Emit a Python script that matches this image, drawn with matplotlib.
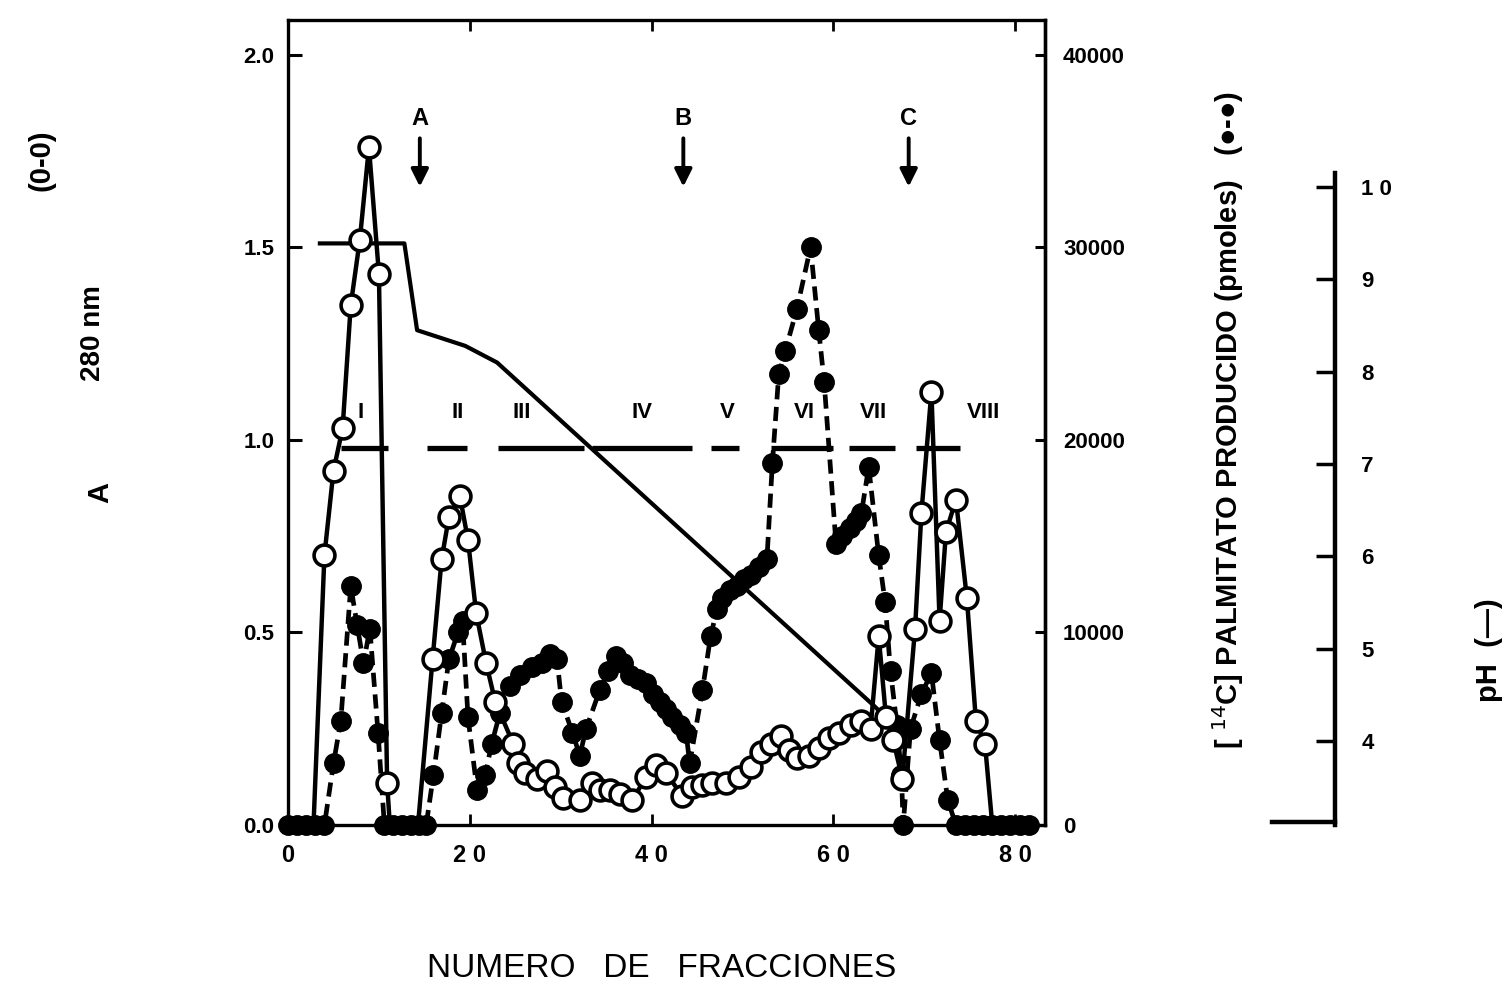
import numpy as np
import matplotlib.pyplot as plt

plt.rcParams['font.family'] = ['Liberation Sans', 'DejaVu Sans']

# A 280 nm (open circles)
frac_a = [2.8, 4.0, 5.0, 6.0, 6.9, 7.9, 8.9, 10.0, 10.9, 11.2, 14.3, 15.9, 16.9, 17.7, 18.9,
          19.8, 20.7, 21.8, 22.8, 24.8, 25.3, 26.1, 27.4, 28.5, 29.4, 30.3, 32.1, 33.4, 34.3,
          35.4, 36.5, 37.9, 39.4, 40.5, 41.6, 43.4, 44.5, 45.5, 46.7, 48.2, 49.6, 50.9, 52.0,
          53.1, 54.3, 55.1, 56.0, 57.3, 58.4, 59.5, 60.6, 61.9, 63.0, 64.1, 65.0, 65.8, 66.6,
          67.6, 69.0, 69.7, 70.8, 71.7, 72.4, 73.5, 74.7, 75.7, 76.7, 77.5]
a280 = [0, 0.70, 0.92, 1.03, 1.35, 1.52, 1.76, 1.43, 0.11, 0, 0, 0.43, 0.69, 0.80, 0.855,
        0.74, 0.55, 0.42, 0.32, 0.21, 0.16, 0.135, 0.12, 0.14, 0.10, 0.07, 0.065, 0.11, 0.09,
        0.09, 0.08, 0.065, 0.125, 0.155, 0.135, 0.075, 0.10, 0.105, 0.11, 0.11, 0.125, 0.15, 0.19,
        0.21, 0.23, 0.195, 0.175, 0.18, 0.20, 0.225, 0.24, 0.26, 0.27, 0.25, 0.49, 0.28, 0.22,
        0.12, 0.51, 0.81, 1.125, 0.53, 0.76, 0.845, 0.59, 0.27, 0.21, 0]

# [14C] palmitato producido, pmoles (filled circles)
frac_p = [0, 1, 2, 3, 4, 5.0, 5.8, 6.9, 7.6, 8.3, 9.0, 9.9, 10.6, 11.5, 12.5, 13.5, 14.4, 15.2,
          16.0, 16.9, 17.7, 18.7, 19.2, 19.8, 20.8, 21.7, 22.4, 23.3, 24.4, 25.5, 26.8, 28.0,
          28.8, 29.6, 30.1, 31.3, 32.1, 32.8, 34.3, 35.2, 36.1, 36.9, 37.6, 38.5, 39.4, 40.2,
          40.9, 41.6, 42.3, 43.1, 43.8, 44.2, 45.6, 46.5, 47.2, 47.8, 48.6, 49.4, 50.2, 51.0,
          51.8, 52.7, 53.3, 54.0, 54.7, 56.0, 57.5, 58.4, 59.0, 60.3, 61.0, 61.8, 62.5, 63.1,
          63.9, 65.0, 65.7, 66.3, 67.0, 67.5, 67.7, 68.5, 69.7, 70.8, 71.7, 72.6, 73.5, 74.5,
          75.5, 76.5, 77.5, 78.5, 79.5, 80.5, 81.5]
pmol = [0, 0, 0, 0, 0, 3200, 5400, 12400, 10400, 8400, 10200, 4800, 0, 0, 0, 0, 0, 0,
        2600, 5800, 8600, 10000, 10600, 5600, 1800, 2600, 4200, 5800, 7200, 7800, 8200, 8400,
        8900, 8600, 6400, 4800, 3600, 5000, 7000, 8000, 8800, 8400, 7800, 7600, 7400, 6800,
        6400, 6000, 5600, 5200, 4800, 3200, 7000, 9800, 11200, 11800, 12200, 12400, 12800, 13000,
        13400, 13800, 18800, 23400, 24600, 26800, 30000, 25700, 23000, 14600, 15000, 15400, 15800, 16200,
        18600, 14000, 11600, 8000, 5200, 2600, 0, 5000, 6800, 7900, 4400, 1300, 0, 0,
        0, 0, 0, 0, 0, 0, 0]

# pH del gradiente (linea continua)
frac_ph = [3.5, 12.8, 14.2, 19.5, 23.0, 64.5, 67.5]
ph = [9.39, 9.39, 8.45, 8.28, 8.10, 4.38, 4.09]

# fracciones reunidas I-VIII
pool_start = [5.8, 15.3, 23.1, 33.4, 46.5, 53.1, 61.7, 69.1]
pool_end = [11.0, 19.7, 32.6, 44.5, 49.6, 60.0, 66.8, 73.9]
pool_names = ['I', 'II', 'III', 'IV', 'V', 'VI', 'VII', 'VIII']
pool_lab_x = [8.0, 18.7, 25.7, 39.0, 48.3, 56.8, 64.4, 76.5]

arrow_names = ['A', 'B', 'C']
arrow_x = [14.5, 43.5, 68.3]

fig = plt.figure(figsize=(15.09, 9.85), dpi=100)
ax = fig.add_axes([0.1909, 0.1624, 0.5016, 0.8173])
ax2 = ax.twinx()
ax3 = ax.twinx()
ax.set_zorder(ax2.get_zorder() + 1)
ax.patch.set_visible(False)

ax.set_xlim(0, 83.3)
ax.set_ylim(0, 2.09)
ax2.set_ylim(0, 41800)
ax3.set_ylim(3.09, 11.81)

# filled circles, dashed
ax2.plot(frac_p, pmol, color='black', lw=3.4, ls=(0, (3, 1.6)), marker='o', ms=14,
         mfc='black', mec='black', clip_on=False, zorder=3)

# open circles, solid
a = np.array(a280)
ax.plot(frac_a, a280, color='black', lw=3.2, marker='o', ms=15, mfc='white', mec='black',
        mew=2.6, markevery=list(np.nonzero(a > 0)[0]), zorder=4)

# pH
ax3.plot(frac_ph, ph, color='black', lw=3)

# pools
ax.hlines([0.98] * len(pool_start), pool_start, pool_end, color='black', lw=3.8)
for name, xl in zip(pool_names, pool_lab_x):
    ax.text(xl, 1.07, name, ha='center', va='center', fontsize=16, fontweight='bold')

for name, xa in zip(arrow_names, arrow_x):
    ax.text(xa, 1.835, name, ha='center', va='center', fontsize=17, fontweight='bold')
    ax.annotate('', xy=(xa, 1.65), xytext=(xa, 1.79),
                arrowprops=dict(arrowstyle='-|>', lw=2.8, color='black', mutation_scale=26))

# axes styling
for sp in ax.spines.values():
    sp.set_linewidth(2.4)
ax2.spines['right'].set_linewidth(2.4)
for s in ['top', 'left', 'bottom']:
    ax3.spines[s].set_visible(False)
ax3.spines['right'].set_position(('axes', 1.383))
ax3.spines['right'].set_bounds(3.09, 10.15)
ax3.spines['right'].set_linewidth(3.2)

ax.set_xticks([0, 20, 40, 60, 80])
ax.set_xticklabels(['0', '2 0', '4 0', '6 0', '8 0'])
ax.set_yticks([0, 0.5, 1.0, 1.5, 2.0])
ax.set_yticklabels(['0.0', '0.5', '1.0', '1.5', '2.0'])
ax.tick_params(axis='x', direction='in', top=True, length=8, width=2, pad=14, labelsize=17)
ax.tick_params(axis='y', direction='in', length=10, width=2.2, pad=10, labelsize=16)
for t in ax.get_xticklabels() + ax.get_yticklabels():
    t.set_fontweight('bold')

ax2.set_yticks([0, 10000, 20000, 30000, 40000])
ax2.set_yticklabels(['0', '10000', '20000', '30000', '40000'])
ax2.tick_params(axis='y', direction='in', length=7, width=2.2, pad=13, labelsize=16)
for t in ax2.get_yticklabels():
    t.set_fontweight('bold')

ax3.set_yticks([4, 5, 6, 7, 8, 9, 10])
ax3.set_yticklabels(['4', '5', '6', '7', '8', '9', '1 0'])
ax3.tick_params(axis='y', direction='in', length=14, width=2.5, pad=19, labelsize=16)
for t in ax3.get_yticklabels():
    t.set_fontweight('bold')
ax3.plot([1.30, 1.383], [3.12, 3.12], transform=ax3.get_yaxis_transform(),
         color='black', lw=3.2, clip_on=False)

# labels
fig.text(0.4387, 0.017, 'NUMERO   DE   FRACCIONES', ha='center', va='center', fontsize=24)
fig.text(0.0663, 0.5005, 'A', rotation=90, ha='center', va='center', fontsize=21,
         fontweight='bold')
fig.text(0.0616, 0.662, '280 nm', rotation=90, ha='center', va='center', fontsize=20,
         fontweight='bold')
fig.text(0.0278, 0.8376, '(0-0)', rotation=90, ha='center', va='center', fontsize=21,
         fontweight='bold')
fig.text(0.8138, 0.5736, '[ $^{14}$C] PALMITATO PRODUCIDO (pmoles)   (●-●)', rotation=90,
         ha='center', va='center', fontsize=21, fontweight='bold')
fig.text(0.987, 0.340, 'pH  (—)', rotation=90, ha='center', va='center', fontsize=21,
         fontweight='bold')

fig.savefig('out.png', dpi=100)
